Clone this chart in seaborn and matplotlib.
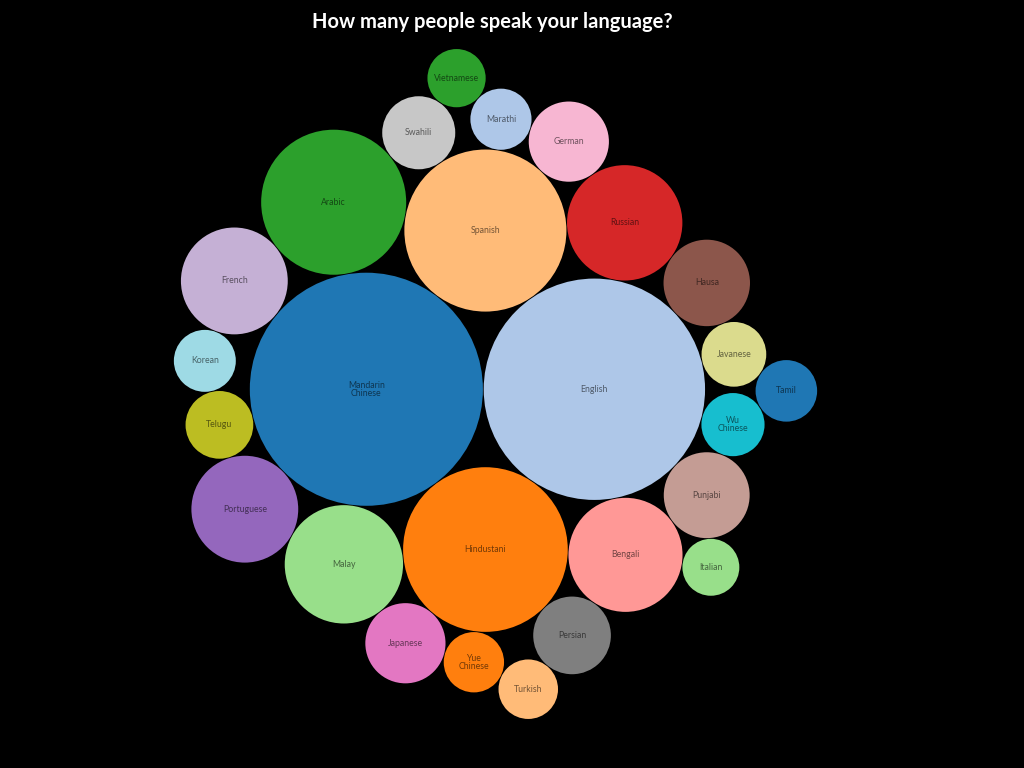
import numpy as np
import pandas as pd
import seaborn as sns
import matplotlib.pyplot as plt

# speakers, millions (order matters for the packing)
languages = ['Mandarin Chinese', 'English', 'Hindustani', 'Spanish', 'Arabic',
             'Malay', 'Russian', 'Bengali', 'Portuguese', 'French', 'Hausa',
             'Punjabi', 'Japanese', 'German', 'Persian', 'Swahili', 'Telugu',
             'Javanese', 'Wu Chinese', 'Korean', 'Tamil', 'Marathi',
             'Yue Chinese', 'Turkish', 'Vietnamese', 'Italian']
speakers = [1090, 983, 544, 527, 422, 281, 267, 261, 229, 229, 150, 148, 129,
            129, 121, 107, 92, 84, 80, 77, 76, 75, 73, 71, 68, 65]
title = 'How many people speak your language?'


# --- front-chain circle packing (same idea as d3.packSiblings) ---
class Node:
    def __init__(self, c):
        self.c = c
        self.next = None
        self.previous = None


def place(b, a, c):
    dx = b['x'] - a['x']
    dy = b['y'] - a['y']
    d2 = dx * dx + dy * dy
    if d2:
        a2 = (a['r'] + c['r']) ** 2
        b2 = (b['r'] + c['r']) ** 2
        if a2 > b2:
            x = (d2 + b2 - a2) / (2 * d2)
            y = np.sqrt(max(0, b2 / d2 - x * x))
            c['x'] = b['x'] - x * dx - y * dy
            c['y'] = b['y'] - x * dy + y * dx
        else:
            x = (d2 + a2 - b2) / (2 * d2)
            y = np.sqrt(max(0, a2 / d2 - x * x))
            c['x'] = a['x'] + x * dx - y * dy
            c['y'] = a['y'] + x * dy + y * dx
    else:
        c['x'] = a['x'] + c['r']
        c['y'] = a['y']


def intersects(a, b):
    dr = a['r'] + b['r'] - 1e-6
    dx = b['x'] - a['x']
    dy = b['y'] - a['y']
    return dr > 0 and dr * dr > dx * dx + dy * dy


def score(node):
    a = node.c
    b = node.next.c
    ab = a['r'] + b['r']
    dx = (a['x'] * b['r'] + b['x'] * a['r']) / ab
    dy = (a['y'] * b['r'] + b['y'] * a['r']) / ab
    return dx * dx + dy * dy


def pack_siblings(circles):
    n = len(circles)
    a = circles[0]
    a['x'], a['y'] = 0.0, 0.0
    b = circles[1]
    a['x'] = -b['r']
    b['x'], b['y'] = a['r'], 0.0
    place(b, a, circles[2])
    a, b, c = Node(a), Node(b), Node(circles[2])
    a.next = c.previous = b
    b.next = a.previous = c
    c.next = b.previous = a

    i = 3
    while i < n:
        place(a.c, b.c, circles[i])
        c = Node(circles[i])
        j, k = b.next, a.previous
        sj, sk = b.c['r'], a.c['r']
        retry = False
        while True:
            if sj <= sk:
                if intersects(j.c, c.c):
                    b = j
                    a.next = b
                    b.previous = a
                    retry = True
                    break
                sj += j.c['r']
                j = j.next
            else:
                if intersects(k.c, c.c):
                    a = k
                    a.next = b
                    b.previous = a
                    retry = True
                    break
                sk += k.c['r']
                k = k.previous
            if j is k.next:
                break
        if retry:
            continue

        c.previous = a
        c.next = b
        a.next = c
        b.previous = c
        b = c

        aa = score(a)
        node = c
        while True:
            node = node.next
            if node is b:
                break
            ca = score(node)
            if ca < aa:
                a, aa = node, ca
        b = a.next
        i += 1
    return circles


scale = 3.53       # px per sqrt(million)
pad = 0.4 / scale  # half of the gap between bubbles

circles = [{'r': np.sqrt(v) + pad, 'x': 0.0, 'y': 0.0} for v in speakers]
pack_siblings(circles)

df = pd.DataFrame({
    'language': languages,
    'x': [c['x'] for c in circles],
    'y': [c['y'] for c in circles],
    'r': [c['r'] - pad for c in circles],
})

# map layout units to pixels
cx, cy = 495.5, 384
x0 = ((df.x - df.r).min() + (df.x + df.r).max()) / 2
y0 = ((df.y - df.r).min() + (df.y + df.r).max()) / 2
df['px'] = cx + scale * (df.x - x0)
df['py'] = cy + scale * (df.y - y0)
df['s'] = (2 * scale * df.r * 72 / 100) ** 2

colors = sns.color_palette('tab20', len(languages))

fig = plt.figure(figsize=(10.24, 7.68), dpi=100, facecolor='black')
ax = fig.add_axes([0, 0, 1, 1])
ax.set_facecolor('black')

sns.scatterplot(data=df, x='px', y='py', hue='language', palette=colors,
                size='s', sizes=(df.s.min(), df.s.max()),
                linewidth=0, alpha=1, legend=False, ax=ax)

for _, row in df.iterrows():
    ax.text(row.px, row.py, row.language.replace(' ', '\n'),
            ha='center', va='center', fontsize=6.3, family='Lato',
            color='black', alpha=0.55, linespacing=0.8)

ax.text(492, 22, title, ha='center', va='center', color='white',
        fontsize=14.5, fontweight='bold', family='Lato')

ax.set_xlim(0, 1024)
ax.set_ylim(768, 0)
ax.axis('off')

fig.savefig('out.png', dpi=100, facecolor='black')
